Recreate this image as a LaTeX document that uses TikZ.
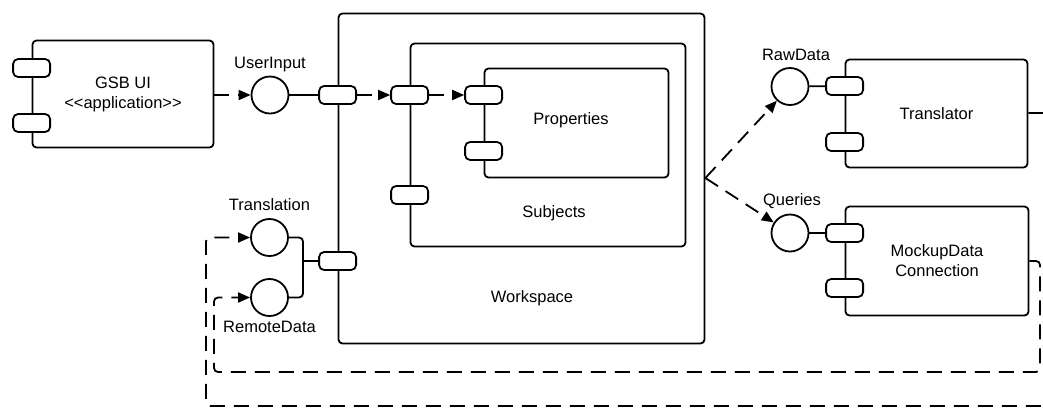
\documentclass[tikz,border=0pt]{standalone}
\usepackage{fontspec}
\setmainfont{Liberation Sans}
\usetikzlibrary{arrows.meta}

\tikzset{
    comp/.style={draw, line width=1.8pt, rounded corners=4pt, fill=white},
    port/.style={draw, line width=1.8pt, rounded corners=5pt, fill=white,
        minimum width=37pt, minimum height=18pt, inner sep=0pt},
    iface/.style={draw, circle, line width=1.8pt, fill=white, minimum size=37pt, inner sep=0pt},
    lbl/.style={font=\fontsize{16.5}{20}\selectfont, align=center},
    wire/.style={line width=1.8pt},
    dep/.style={line width=1.8pt, dash pattern=on 15pt off 9pt,
        -{Triangle[length=12pt,width=10pt]}}
}

\begin{document}
\begin{tikzpicture}[x=1pt, y=-1pt]
    \useasboundingbox (0,0) rectangle (1043,408);
    \clip (0,0) rectangle (1043,408);
    \fill[white] (0,0) rectangle (1043,408);

    % components
    \node[comp, lbl, minimum width=181pt, minimum height=107pt] (gsb) at (123,94) {GSB UI\\<{}<application>{}>};
    \node[comp, minimum width=366pt, minimum height=330pt] (ws) at (521.5,178.5) {};
    \node[comp, minimum width=275pt, minimum height=203pt] (subj) at (548,145) {};
    \node[comp, minimum width=184pt, minimum height=109pt] (prop) at (576.5,123) {};
    \node[comp, lbl, minimum width=182pt, minimum height=108pt] (trans) at (936.5,113.5) {Translator};
    \node[comp, lbl, minimum width=183pt, minimum height=109pt] (mock) at (937,261) {MockupData\\Connection};
    \node[lbl] (propname) at (571,120) {Properties};
    \node[lbl] (subjname) at (554,213) {Subjects};
    \node[lbl] (wsname) at (532,298) {Workspace};

    % ports
    \node[port] (gsbpa) at (gsb.west |- 0,68) {};
    \node[port] (gsbpb) at (gsb.west |- 0,123) {};
    \node[port] (wspa) at (ws.west |- 0,95) {};
    \node[port] (wspb) at (ws.west |- 0,261) {};
    \node[port] (subjpa) at (subj.west |- 0,95) {};
    \node[port] (subjpb) at (subj.west |- 0,195) {};
    \node[port] (proppa) at (prop.west |- 0,95) {};
    \node[port] (proppb) at (prop.west |- 0,151) {};
    \node[port] (transpa) at (trans.west |- 0,86) {};
    \node[port] (transpb) at (trans.west |- 0,142) {};
    \node[port] (mockpa) at (mock.west |- 0,233) {};
    \node[port] (mockpb) at (mock.west |- 0,288) {};

    % interfaces
    \node[iface] (userin) at (270,95) {};
    \node[iface] (transl) at (269.5,237.5) {};
    \node[iface] (remote) at (269.5,297.5) {};
    \node[iface] (raw) at (790,86.5) {};
    \node[iface] (query) at (790,233) {};
    \node[lbl] (userinname) at (270,65) {UserInput};
    \node[lbl] (translname) at (269.5,205) {Translation};
    \node[lbl] (remotename) at (269.5,327) {RemoteData};
    \node[lbl] (rawname) at (796,55) {RawData};
    \node[lbl] (queryname) at (792,201) {Queries};

    % connectors
    \coordinate (join) at (303,261);
    \coordinate (wsout) at (ws.east |- 0,178);
    \draw[dep] (gsb.east |- userin) -- (userin);
    \draw[wire] (userin) -- (wspa);
    \draw[dep] (wspa) -- (subjpa);
    \draw[dep] (subjpa) -- (proppa);
    \draw[wire, rounded corners=4pt] (transl) -- (transl -| join) -- (join) -- (remote -| join) -- (remote);
    \draw[wire] (join) -- (wspb);
    \draw[dep] (wsout) -- (raw);
    \draw[dep] (wsout) -- (query);
    \draw[wire] (raw) -- (transpa);
    \draw[wire] (query) -- (mockpa);
    \draw[dep, rounded corners=4pt] (mock.east |- 0,261) -- (1040,261) -- (1040,372) -- (214,372) -- (214,297.5) -- (remote);
    \draw[dep, rounded corners=4pt] (trans.east |- 0,113) -- (1070,113) -- (1070,406) -- (206,406) -- (206,237.5) -- (transl);
\end{tikzpicture}
\end{document}
